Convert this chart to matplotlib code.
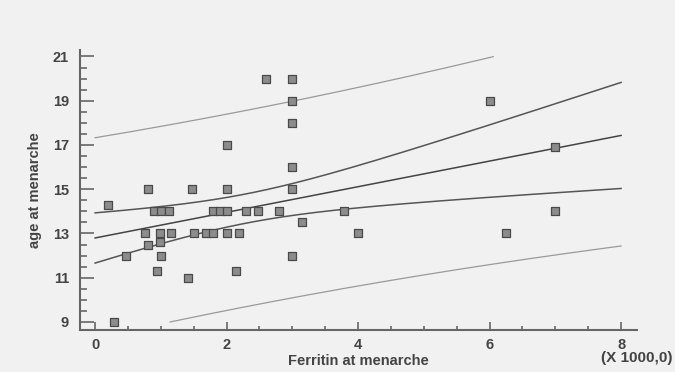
import numpy as np
import matplotlib.pyplot as plt

plt.rcParams['font.family'] = 'Liberation Sans'

# ferritin (x1000) and age at menarche
ferritin = [0.2, 0.29, 0.47, 0.76, 0.8, 0.8, 0.89, 0.94, 0.98, 0.98,
            1.0, 1.0, 1.12, 1.15, 1.42, 1.47, 1.5, 1.69, 1.8, 1.8,
            1.9, 2.0, 2.0, 2.0, 2.0, 2.14, 2.19, 2.29, 2.47, 2.6,
            2.79, 3.0, 3.0, 3.0, 3.0, 3.0, 3.0, 3.14, 3.79, 4.0,
            6.0, 6.25, 7.0, 7.0]
age = [14.3, 9.0, 12.0, 13.0, 12.5, 15.0, 14.0, 11.3, 13.0, 12.6,
       14.0, 12.0, 14.0, 13.0, 11.0, 15.0, 13.0, 13.0, 13.0, 14.0,
       14.0, 14.0, 13.0, 15.0, 17.0, 11.3, 13.0, 14.0, 14.0, 20.0,
       14.0, 20.0, 19.0, 18.0, 16.0, 15.0, 12.0, 13.5, 14.0, 13.0,
       19.0, 13.0, 16.9, 14.0]
yticks = [9, 11, 13, 15, 17, 19, 21]
xticks = [0, 2, 4, 6, 8]

x = np.array(ferritin)
y = np.array(age)
n = len(x)
slope, icpt = np.polyfit(x, y, 1)
resid = y - (icpt + slope * x)
s = np.sqrt(np.sum(resid**2) / (n - 2))
sxx = np.sum((x - x.mean())**2)
t = 2.018  # t(0.975, df=42)

xs = np.linspace(0, 8, 400)
fit = icpt + slope * xs
se_conf = s * np.sqrt(1.0/n + (xs - x.mean())**2 / sxx)
se_pred = s * np.sqrt(1 + 1.0/n + (xs - x.mean())**2 / sxx)

def clip(v):
    v = v.copy()
    v[(v < 9) | (v > 21)] = np.nan
    return v

bg = '#f1f1f1'
fig = plt.figure(figsize=(6.75, 3.72), dpi=100, facecolor=bg)
ax = fig.add_axes([0.1185, 0.113, 0.825, 0.753], facecolor=bg)

ax.plot(xs, clip(fit + t*se_pred), color='#9a9a9a', lw=0.9)
ax.plot(xs, clip(fit - t*se_pred), color='#9a9a9a', lw=0.9)
ax.plot(xs, fit + t*se_conf, color='#555555', lw=1.1)
ax.plot(xs, fit - t*se_conf, color='#555555', lw=1.1)
ax.plot(xs, fit, color='#444444', lw=1.1)
ax.scatter(x, y, marker='s', s=26, facecolor='#8c8c8c', edgecolor='#4a4a4a', lw=0.9, zorder=3)

ax.set_xlim(-0.23, 8.24)
ax.set_ylim(8.64, 21.3)
ax.set_xticks(xticks)
ax.set_xticks(np.arange(0, 8.01, 0.5), minor=True)
ax.set_yticks(yticks)
ax.set_yticks(np.arange(9, 21.01, 0.5), minor=True)
ax.set_xticklabels([str(v) for v in xticks], fontsize=10.5, fontweight='bold', color='#444444')
ax.set_yticklabels([str(v) for v in yticks], fontsize=10.5, fontweight='bold', color='#444444')
ax.tick_params(axis='y', which='major', direction='in', length=10, width=1.2, color='#666666', pad=8)
ax.tick_params(axis='y', which='minor', direction='in', length=5, width=1.2, color='#666666')
ax.tick_params(axis='x', which='major', direction='in', length=6, width=1.2, color='#666666', pad=6)
ax.tick_params(axis='x', which='minor', direction='in', length=3, width=1.2, color='#666666')

for side in ['top', 'right']:
    ax.spines[side].set_visible(False)
for side in ['left', 'bottom']:
    ax.spines[side].set_color('#666666')
    ax.spines[side].set_linewidth(1.5)

ax.set_xlabel('Ferritin at menarche', fontsize=10.5, fontweight='bold', color='#444444', labelpad=1)
ax.set_ylabel('age at menarche', fontsize=10.5, fontweight='bold', color='#444444', labelpad=8)
fig.text(0.997, 0.038, '(X 1000,0)', ha='right', va='center', fontsize=11,
         fontweight='bold', color='#444444')

fig.savefig('out.png', dpi=100, facecolor=bg)
